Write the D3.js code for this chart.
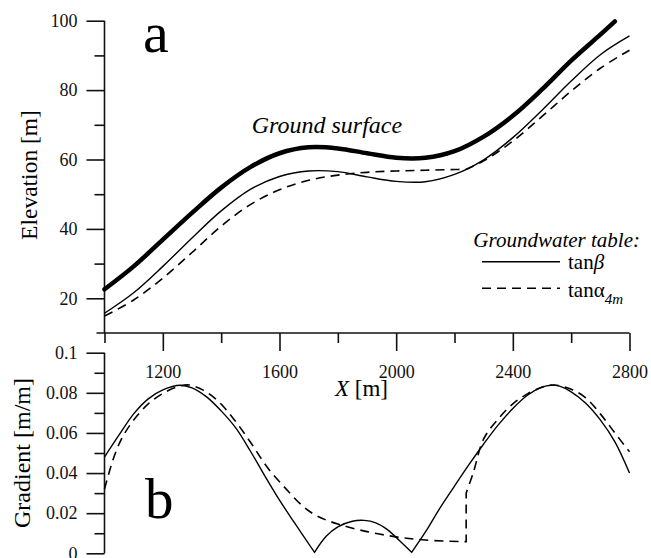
<!DOCTYPE html>
<html>
<head>
<meta charset="utf-8">
<script src="https://cdn.jsdelivr.net/npm/d3@7"></script>
<style>
  body { margin: 0; background: #fff; }
  svg { display: block; }
  svg text { font-family: "Liberation Serif", "Times New Roman", serif; }
</style>
</head>
<body>
<svg id="chart" width="651" height="558"></svg>
<script>
// ---- data ----
// panel a: elevation [m] along X [m]
const groundX = [1000, 1100, 1200, 1300, 1400, 1500, 1600, 1700, 1800, 1900, 2000, 2100, 2200, 2300, 2400, 2500, 2600, 2700, 2750];
const groundZ = [22.6, 29.2, 36.9, 44.6, 51.9, 57.8, 61.8, 63.5, 63.2, 61.8, 60.5, 60.5, 62.4, 66.6, 72.6, 80.2, 88.5, 96.0, 99.8];

const tanBetaX = [1000, 1100, 1200, 1300, 1400, 1500, 1600, 1700, 1800, 1900, 2000, 2100, 2200, 2300, 2400, 2500, 2600, 2700, 2800];
const tanBetaZ = [15.7, 21.6, 29.2, 37.4, 45.2, 51.4, 55.1, 56.7, 56.5, 55.0, 53.7, 53.6, 55.7, 59.9, 66.3, 74.2, 82.6, 90.2, 95.6];

const tanAlphaX = [1000, 1100, 1200, 1300, 1400, 1500, 1600, 1700, 1800, 1900, 2000, 2100, 2200, 2240, 2300, 2400, 2500, 2600, 2700, 2800];
const tanAlphaZ = [14.9, 19.5, 25.8, 33.2, 40.8, 47.0, 51.3, 54.0, 55.5, 56.3, 56.7, 56.9, 57.1, 57.2, 59.6, 65.3, 72.4, 79.7, 86.3, 91.5];
const tanAlphaKinks = [2240];

// panel b: gradient [m/m]
const gradBetaX = [1000, 1050, 1100, 1150, 1200, 1260, 1300, 1350, 1400, 1450, 1500, 1550, 1600, 1650, 1720,
                   1760, 1800, 1850, 1890, 1930, 1970, 2010, 2053,
                   2100, 2150, 2200, 2250, 2300, 2350, 2400, 2450, 2500, 2530, 2560, 2600, 2650, 2700, 2750, 2800];
const gradBeta  = [0.048, 0.059, 0.0695, 0.077, 0.0815, 0.0838, 0.0825, 0.078, 0.071, 0.0625, 0.051, 0.0385, 0.0265, 0.0155, 0.0005,
                   0.0085, 0.0132, 0.016, 0.0164, 0.0152, 0.0118, 0.0065, 0.0005,
                   0.0105, 0.0225, 0.0335, 0.0443, 0.0545, 0.064, 0.0722, 0.0788, 0.0828, 0.0838, 0.0833, 0.0805, 0.0748, 0.0665, 0.0555, 0.040];
const gradBetaKinks = [1720, 2053];

const gradAlphaX = [1000, 1030, 1060, 1100, 1150, 1200, 1250, 1290, 1340, 1390, 1440, 1500, 1560, 1620, 1680, 1730, 1800, 1900, 2000, 2100, 2240,
                    2240, 2264, 2300, 2350, 2400, 2450, 2500, 2540, 2600, 2650, 2700, 2750, 2800];
const gradAlpha  = [0.032, 0.047, 0.0575, 0.0664, 0.0745, 0.0797, 0.083, 0.0839, 0.0812, 0.0758, 0.0675, 0.0555, 0.0425, 0.0325, 0.0235, 0.0185, 0.0146, 0.0108, 0.0082, 0.0066, 0.0058,
                    0.030, 0.040, 0.057, 0.067, 0.0745, 0.0795, 0.0828, 0.0839, 0.0818, 0.0775, 0.0695, 0.060, 0.0506];

// ticks
const xMajor = [1200, 1600, 2000, 2400, 2800];
const xMinor = [1000, 1400, 1800, 2200, 2600];
const elevMajor = [20, 40, 60, 80, 100];
const elevMinor = [30, 50, 70, 90];
const gradMajor = [0, 0.02, 0.04, 0.06, 0.08, 0.1];
const gradMinor = [0.01, 0.03, 0.05, 0.07, 0.09];

// ---- drawing ----
const ink = '#111';
const serif = '"Liberation Serif", "Times New Roman", serif';
const svg = d3.select('#chart');

const x = d3.scaleLinear().domain([1000, 2800]).range([104.5, 629.5]);
const yTop = d3.scaleLinear().domain([10, 100]).range([333, 20.7]);
const yBot = d3.scaleLinear().domain([0, 0.1]).range([553.3, 352.7]);

// split a series into smooth pieces at kinks (shared point) and jumps (repeated x)
function pieces(xs, ys, kinks) {
  const out = [];
  let cur = [];
  xs.forEach((xv, i) => {
    const pt = [xv, ys[i]];
    if (cur.length && xv === cur[cur.length - 1][0]) {
      out.push(cur); cur = [pt];
    } else {
      cur.push(pt);
      if (kinks.includes(xv) && i < xs.length - 1 && xs[i + 1] !== xv) { out.push(cur); cur = [pt]; }
    }
  });
  out.push(cur);
  return out;
}

function curvePath(xs, ys, kinks, yScale) {
  const line = d3.line()
    .x(d => x(d[0]))
    .y(d => yScale(d[1]))
    .curve(d3.curveCatmullRom.alpha(0.5));
  return pieces(xs, ys, kinks)
    .map((p, i) => i === 0 ? line(p) : line(p).replace(/^M/, 'L'))
    .join('');
}

function styleAxis(g) {
  g.selectAll('.domain').remove();
  g.selectAll('g').attr('font-family', serif).attr('font-size', 18).attr('fill', ink);
  g.selectAll('line').attr('stroke', ink).attr('stroke-width', 1.6);
  g.selectAll('text').attr('fill', ink);
}

function drawAxisLeft(scale, major, minor, fmt) {
  const g = svg.append('g').attr('transform', `translate(${x(1000)},0)`);
  g.append('g').call(d3.axisLeft(scale).tickValues(major).tickSize(18).tickSizeOuter(0).tickPadding(9).tickFormat(fmt));
  g.append('g').call(d3.axisLeft(scale).tickValues(minor).tickSize(10).tickSizeOuter(0).tickFormat(''));
  styleAxis(g);
  return g;
}

// axis lines
svg.append('line').attr('x1', x(1000)).attr('x2', x(1000)).attr('y1', yTop(100)).attr('y2', yTop(10))
  .attr('stroke', ink).attr('stroke-width', 1.6);
svg.append('line').attr('x1', x(1000) - 8).attr('x2', x(2800)).attr('y1', yTop(10)).attr('y2', yTop(10))
  .attr('stroke', ink).attr('stroke-width', 1.6);
svg.append('line').attr('x1', x(1000)).attr('x2', x(1000)).attr('y1', yBot(0.1)).attr('y2', yBot(0))
  .attr('stroke', ink).attr('stroke-width', 1.6);

drawAxisLeft(yTop, elevMajor, elevMinor, d3.format('d'));
drawAxisLeft(yBot, gradMajor, gradMinor, d => String(d));

const gx = svg.append('g').attr('transform', `translate(0,${yTop(10)})`);
gx.append('g').call(d3.axisBottom(x).tickValues(xMajor).tickSize(18).tickSizeOuter(0).tickFormat(d3.format('d')));
gx.append('g').call(d3.axisBottom(x).tickValues(xMinor).tickSize(10).tickSizeOuter(0).tickFormat(''));
styleAxis(gx);
gx.selectAll('text').attr('y', 45).attr('dy', 0);

// panel a curves
svg.append('path').attr('d', curvePath(groundX, groundZ, [], yTop))
  .attr('fill', 'none').attr('stroke', '#000').attr('stroke-width', 4.5).attr('stroke-linecap', 'round');
svg.append('path').attr('d', curvePath(tanBetaX, tanBetaZ, [], yTop))
  .attr('fill', 'none').attr('stroke', '#000').attr('stroke-width', 1.4);
svg.append('path').attr('d', curvePath(tanAlphaX, tanAlphaZ, tanAlphaKinks, yTop))
  .attr('fill', 'none').attr('stroke', '#000').attr('stroke-width', 1.6).attr('stroke-dasharray', '9,6');

// panel b curves
svg.append('path').attr('d', curvePath(gradBetaX, gradBeta, gradBetaKinks, yBot))
  .attr('fill', 'none').attr('stroke', '#000').attr('stroke-width', 1.4).attr('stroke-linejoin', 'miter');
svg.append('path').attr('d', curvePath(gradAlphaX, gradAlpha, [], yBot))
  .attr('fill', 'none').attr('stroke', '#000').attr('stroke-width', 1.6).attr('stroke-dasharray', '9,6');

// labels
svg.append('text').attr('x', 143).attr('y', 51.7).attr('font-size', 58).text('a');
svg.append('text').attr('x', 145).attr('y', 518).attr('font-size', 57).text('b');
svg.append('text').attr('x', 251.7).attr('y', 133.3).attr('font-size', 24).attr('font-style', 'italic')
  .text('Ground surface');

svg.append('text').attr('transform', 'translate(36.5,175) rotate(-90)').attr('text-anchor', 'middle')
  .attr('font-size', 23.5).text('Elevation [m]');
svg.append('text').attr('transform', 'translate(29.5,453) rotate(-90)').attr('text-anchor', 'middle')
  .attr('font-size', 24).text('Gradient [m/m]');

const xt = svg.append('text').attr('x', 335).attr('y', 396).attr('font-size', 23);
xt.append('tspan').attr('font-style', 'italic').text('X');
xt.append('tspan').text(' [m]');

// legend
svg.append('text').attr('x', 640).attr('y', 247).attr('text-anchor', 'end')
  .attr('font-size', 21).attr('font-style', 'italic').text('Groundwater table:');
svg.append('line').attr('x1', 482).attr('x2', 560).attr('y1', 261.7).attr('y2', 261.7)
  .attr('stroke', '#000').attr('stroke-width', 1.4);
svg.append('line').attr('x1', 482).attr('x2', 560).attr('y1', 288.3).attr('y2', 288.3)
  .attr('stroke', '#000').attr('stroke-width', 1.6).attr('stroke-dasharray', '9,6');
const lb = svg.append('text').attr('x', 568).attr('y', 269).attr('font-size', 21);
lb.append('tspan').text('tan');
lb.append('tspan').attr('font-style', 'italic').text('β');
const la = svg.append('text').attr('x', 568).attr('y', 297).attr('font-size', 21);
la.append('tspan').text('tanα');
la.append('tspan').attr('font-style', 'italic').attr('font-size', 15).attr('dy', 7).text('4m');
</script>
</body>
</html>
